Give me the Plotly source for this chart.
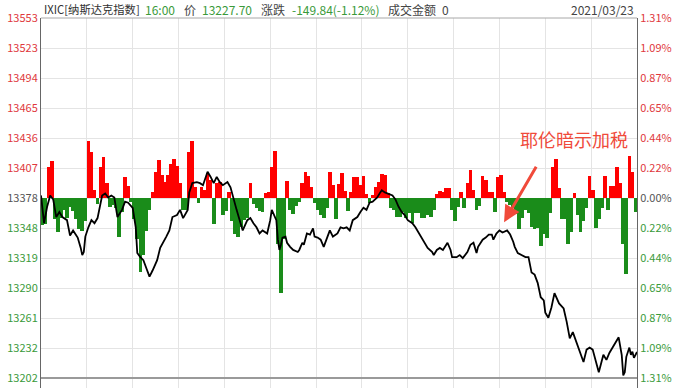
import plotly.graph_objects as go
import numpy as np

# ---------------- data ----------------
prev_close = 13377.54
tick_step = 29.19
price_labels = ["13553", "13523", "13494", "13465", "13436", "13407", "13378",
                "13348", "13319", "13290", "13261", "13232", "13202"]
pct_labels = ["1.31%", "1.09%", "0.87%", "0.65%", "0.44%", "0.22%", "0.00%",
              "0.22%", "0.44%", "0.65%", "0.87%", "1.09%", "1.31%"]

# minutes after 09:30
line_minutes = [0, 2, 4, 6, 8, 10, 12, 14, 17, 19, 21, 24, 26, 27, 28, 29, 31, 33, 35, 37,
                40, 42, 44, 46, 48, 50, 53, 55, 57, 60, 62, 63, 65, 67, 69, 71, 73, 76, 78, 80,
                82, 84, 86, 89, 91, 93, 96, 97, 99, 102, 104, 106, 109, 111, 113, 115, 117, 119, 122, 124,
                126, 128, 130, 132, 135, 137, 139, 141, 143, 145, 148, 150, 151, 152, 154, 155, 156, 157, 158, 160,
                161, 163, 165, 168, 169, 171, 172, 174, 176, 178, 179, 181, 183, 185, 187, 189, 191, 194, 196, 198,
                200, 202, 204, 207, 209, 211, 213, 215, 217, 220, 222, 223, 225, 227, 230, 232, 234, 236, 238, 240,
                243, 245, 247, 249, 251, 253, 256, 257, 259, 261, 263, 266, 268, 269, 272, 274, 276, 279, 281, 283,
                285, 286, 289, 291, 293, 295, 296, 298, 300, 302, 305, 307, 309, 310, 312, 315, 317, 319, 321, 323,
                325, 327, 329, 330, 332, 334, 336, 339, 342, 344, 346, 348, 350, 352, 355, 357, 359, 361, 363, 365,
                368, 370, 372, 375, 378, 380, 381, 382, 383, 385, 386, 387, 388, 390]
line_prices = [13380, 13353, 13369, 13380, 13376, 13359, 13364, 13359, 13356, 13341, 13346, 13339, 13329, 13322, 13325, 13340, 13349, 13356, 13353, 13358,
               13380, 13382, 13378, 13380, 13378, 13359, 13366, 13374, 13373, 13368, 13349, 13324, 13320, 13317, 13309, 13301, 13307, 13317, 13329, 13334,
               13340, 13346, 13359, 13361, 13366, 13358, 13366, 13383, 13392, 13393, 13392, 13390, 13403, 13398, 13392, 13398, 13393, 13390, 13393, 13388,
               13376, 13366, 13356, 13346, 13356, 13358, 13353, 13349, 13343, 13346, 13343, 13356, 13366, 13363, 13356, 13337, 13327, 13332, 13339, 13340,
               13334, 13330, 13327, 13325, 13327, 13334, 13332, 13343, 13342, 13348, 13340, 13339, 13337, 13330, 13339, 13346, 13340, 13343, 13349, 13348,
               13349, 13346, 13356, 13359, 13364, 13368, 13366, 13373, 13374, 13378, 13383, 13385, 13383, 13382, 13380, 13376, 13369, 13364, 13361, 13356,
               13353, 13349, 13344, 13339, 13334, 13329, 13325, 13322, 13327, 13329, 13327, 13334, 13327, 13320, 13320, 13322, 13319, 13325, 13332, 13334,
               13324, 13330, 13337, 13339, 13342, 13342, 13337, 13343, 13346, 13344, 13346, 13342, 13335, 13330, 13324, 13322, 13320, 13320, 13305, 13303,
               13295, 13281, 13278, 13266, 13261, 13271, 13285, 13275, 13270, 13257, 13241, 13247, 13239, 13230, 13218, 13230, 13232, 13230, 13218, 13208,
               13225, 13220, 13227, 13234, 13242, 13225, 13205, 13208, 13223, 13232, 13225, 13228, 13222, 13227.70]

# histogram values (points vs previous close), one bar per 2 minutes
bar_values = [-26, -25, 30, 36, -20, -33, -19, -12, -19, -9,
              -13, -20, -30, -32, -22, 55, 45, 8, -6, 30,
              40, 15, -9, -7, -10, -38, -14, 20, 12, -4,
              -20, -40, -72, -55, -32, -12, 6, 25, 37, 22,
              16, 22, 33, 38, 31, 15, -12, -12, 45, 55,
              11, -5, 11, 8, 24, 18, -25, 15, 16, -17,
              -13, 6, -22, -35, -38, -28, -21, -19, 15, -6,
              -10, -13, -14, 5, 6, 30, 46, -45, -92, -40,
              17, -12, -16, -8, -4, 15, 25, 21, 11, -5,
              -12, -17, -19, -10, 25, 13, -20, 14, 24, 7,
              -13, 6, 20, 20, 13, 21, 4, -5, 3, 11,
              16, 23, 22, 5, -10, -12, -18, -18, -14, -19,
              -15, -24, -15, -15, -19, -19, -17, -18, -12, 4,
              7, 6, 10, 10, -12, -22, -9, 6, -10, 15,
              27, 8, -12, -8, 21, 18, 6, 6, -14, 20,
              22, 6, -4, -7, -10, -16, -30, -19, -12, -15,
              -28, -30, -29, -47, -35, -39, -15, 30, 38, 10,
              -20, -20, -45, -33, 5, -17, -33, -22, -10, 21,
              8, -29, -20, -10, 21, -12, 12, 12, 30, 15,
              -45, -74, 41, 25, -14]

header_items = [("IXIC[纳斯达克指数]", "#333333"), ("16:00", "#3a9a3a"), ("价", "#444444"),
                ("13227.70", "#3a9a3a"), ("涨跌", "#444444"), ("-149.84(-1.12%)", "#3a9a3a"),
                ("成交金额", "#444444"), ("0", "#444444")]
header_x_px = [42, 143, 182, 200, 259, 290, 386, 440]
date_text = "2021/03/23"
note_text = "耶伦暗示加税"

# ---------------- styling ----------------
RED = "#e0383c"
GREEN = "#3a9a3a"
GRAY = "#555555"
BAR_RED = "#ff0000"
BAR_GREEN = "#1a8c1a"
GRID = "#e4e4e4"
FONT = "Noto Sans CJK SC"

W, H = 692, 388
ML, MR, MT, MB = 41, 55, 18, 0
PW, PH = W - ML - MR, H - MT - MB

tickvals = [prev_close + (6 - i) * tick_step for i in range(len(price_labels))]
px_per_pt = 30 / tick_step
y_low = tickvals[-1] - 10 / px_per_pt
y_high = tickvals[0]


def colored(label, i):
    c = RED if i < 6 else (GRAY if i == 6 else GREEN)
    return f"<span style='color:{c}'>{label}</span>"


left_text = [colored(l, i) for i, l in enumerate(price_labels)]
right_text = [colored(l, i) for i, l in enumerate(pct_labels)]

bar_x = np.arange(len(bar_values)) * 2 + 1
bar_colors = [BAR_RED if v >= 0 else BAR_GREEN for v in bar_values]

fig = go.Figure()
fig.add_trace(go.Bar(x=bar_x, y=bar_values, base=prev_close, width=2.4,
                     marker=dict(color=bar_colors, line=dict(width=0)),
                     hoverinfo="skip", showlegend=False))
fig.add_trace(go.Scatter(x=line_minutes, y=line_prices, mode="lines",
                         line=dict(color="#000000", width=1.8),
                         showlegend=False))
fig.add_trace(go.Scatter(x=line_minutes, y=line_prices, yaxis="y2", mode="lines",
                         line=dict(width=0), opacity=0, hoverinfo="skip",
                         showlegend=False))

annotations = []
for j, ((txt, col), xp) in enumerate(zip(header_items, header_x_px)):
    annotations.append(dict(text=txt, xref="paper", yref="paper",
                            x=(xp - ML) / PW, y=1 + 9 / PH, xanchor="left", yanchor="middle",
                            showarrow=False,
                            font=dict(size=11.3 if j == 0 else 12, color=col, family=FONT)))
annotations.append(dict(text=date_text, xref="paper", yref="paper",
                        x=(636 - ML) / PW, y=1 + 9 / PH, xanchor="right", yanchor="middle",
                        showarrow=False, font=dict(size=12, color="#444444", family=FONT)))
annotations.append(dict(text=note_text, xref="paper", yref="paper",
                        x=(518 - ML) / PW, y=(H - 139) / PH, xanchor="left", yanchor="middle",
                        showarrow=False, font=dict(size=18, color="#f04a3a", family=FONT)))
annotations.append(dict(text="", x=303, y=13354, xref="x", yref="y",
                        showarrow=True, ax=33, ay=-57, arrowhead=2, arrowsize=1.1,
                        arrowwidth=3, arrowcolor="#f04a3a"))

shapes = [
    dict(type="line", xref="paper", yref="y", x0=0, x1=1, y0=tickvals[-1], y1=tickvals[-1],
         line=dict(color="#9a9a9a", width=2)),
    dict(type="line", xref="paper", yref="paper", x0=0, x1=1, y0=1, y1=1,
         line=dict(color="#a8a8a8", width=1)),
]

fig.update_layout(
    width=W, height=H,
    margin=dict(l=ML, r=MR, t=MT, b=MB),
    paper_bgcolor="white", plot_bgcolor="white",
    font=dict(family=FONT, size=12, color="#444444"),
    bargap=0,
    xaxis=dict(range=[0, 390], tick0=0, dtick=30, showgrid=True, gridcolor=GRID,
               showticklabels=False, zeroline=False, showline=False, ticks=""),
    yaxis=dict(range=[y_low, y_high], tickmode="array", tickvals=tickvals, ticktext=left_text,
               showgrid=True, gridcolor=GRID, zeroline=False, showline=True,
               linecolor="#666666", linewidth=1, ticks="", tickfont=dict(size=11, family=FONT)),
    yaxis2=dict(range=[y_low, y_high], overlaying="y", side="right", tickmode="array",
                tickvals=tickvals, ticktext=right_text, showgrid=False, zeroline=False,
                showline=True, linecolor="#666666", linewidth=1, ticks="",
                tickfont=dict(size=11, family=FONT)),
    annotations=annotations,
    shapes=shapes,
)

fig.write_html("out.html")
